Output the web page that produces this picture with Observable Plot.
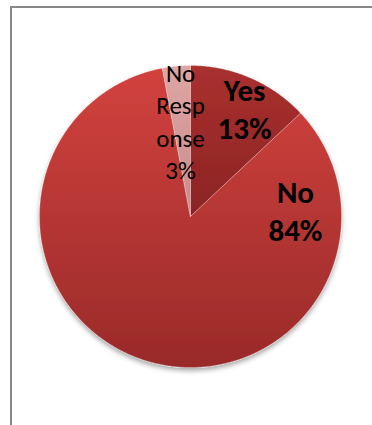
<!DOCTYPE html>
<html><head><meta charset="utf-8">
<script src="https://cdn.jsdelivr.net/npm/d3@7"></script>
<script src="https://cdn.jsdelivr.net/npm/@observablehq/plot@0.6"></script>
<style>
html,body{margin:0;padding:0;background:#fff;}
#wrap{position:relative;width:372px;height:425px;overflow:hidden;}
#border{position:absolute;left:10px;top:6px;width:420px;height:460px;border:2px solid #888;box-sizing:border-box;}
#chart{position:absolute;left:0;top:0;}
</style></head><body>
<div id="wrap"><div id="border"></div><div id="chart"></div></div>
<script>
// ---- data ----
const categories = ["Yes", "No", "No Response"];
const percents = [13, 84, 3];
const labelLines = ["Yes\n13%", "No\n84%", "No\nResp\nonse\n3%"];

// ---- style / layout (not data) ----
const gradients = [
  ["#a9302e", "#8c2424"],
  ["#d2423e", "#992a29"],
  ["#dfa6a6", "#c68b8b"]
];
const boldLabel = [true, true, false];
// label anchor in unit-pie coordinates (y up)
const labelPos = [[0.358, 0.722], [0.695, 0.046], [-0.066, 0.64]];

// ---- build slices from data ----
const total = d3.sum(percents);
let acc = 0;
const slices = categories.map((c, i) => {
  const a0 = acc / total * 2 * Math.PI;
  acc += percents[i];
  const a1 = acc / total * 2 * Math.PI;
  const n = Math.max(2, Math.ceil((a1 - a0) / (Math.PI / 360)));
  const ring = [[0, 0]];
  for (let k = 0; k <= n; k++) {
    const a = a0 + (a1 - a0) * k / n;
    ring.push([Math.sin(a), Math.cos(a)]);
  }
  ring.push([0, 0]);
  return {type: "Feature", properties: {name: c, fill: `url(#grad${i})`},
          geometry: {type: "Polygon", coordinates: [ring]}};
});
const pie = {type: "FeatureCollection", features: slices};

const labels = categories.map((c, i) => ({
  name: c, text: labelLines[i], x: labelPos[i][0], y: labelPos[i][1], bold: boldLabel[i]
}));

const fontFam = "Carlito, Calibri, Lato, 'Liberation Sans', sans-serif";

const svg = Plot.plot({
  width: 372,
  height: 425,
  marginLeft: 39,
  marginRight: 31,
  marginTop: 65,
  marginBottom: 58,
  style: {background: "transparent", overflow: "visible"},
  projection: {type: "reflect-y", domain: pie},
  color: {type: "identity"},
  marks: [
    Plot.geo(pie.features, {fill: d => d.properties.fill, stroke: "#ffffff", strokeOpacity: 0.35, strokeWidth: 0.75}),
    Plot.text(labels.filter(d => d.bold), {
      x: "x", y: "y", text: "text", fontFamily: fontFam, fontWeight: "bold",
      fontSize: 31, lineHeight: 1.23, fill: "#000"
    }),
    Plot.text(labels.filter(d => !d.bold), {
      x: "x", y: "y", text: "text", fontFamily: fontFam, fontWeight: "normal",
      fontSize: 25, lineHeight: 1.3, fill: "#000"
    })
  ]
});

// gradients + shadow
const ns = "http://www.w3.org/2000/svg";
const defs = document.createElementNS(ns, "defs");
gradients.forEach((g, i) => {
  const lg = document.createElementNS(ns, "linearGradient");
  lg.setAttribute("id", "grad" + i);
  lg.setAttribute("x1", "0"); lg.setAttribute("y1", "0");
  lg.setAttribute("x2", "0"); lg.setAttribute("y2", "1");
  g.forEach((col, j) => {
    const s = document.createElementNS(ns, "stop");
    s.setAttribute("offset", j === 0 ? "0" : "1");
    s.setAttribute("stop-color", col);
    lg.appendChild(s);
  });
  defs.appendChild(lg);
});
const filt = document.createElementNS(ns, "filter");
filt.setAttribute("id", "shadow");
filt.setAttribute("x", "-10%"); filt.setAttribute("y", "-10%");
filt.setAttribute("width", "120%"); filt.setAttribute("height", "125%");
const ds = document.createElementNS(ns, "feDropShadow");
ds.setAttribute("dx", "0"); ds.setAttribute("dy", "3");
ds.setAttribute("stdDeviation", "2.5");
ds.setAttribute("flood-color", "#000"); ds.setAttribute("flood-opacity", "0.35");
filt.appendChild(ds);
defs.appendChild(filt);
svg.insertBefore(defs, svg.firstChild);
const geoG = svg.querySelector('g[aria-label="geo"]');
if (geoG) geoG.setAttribute("filter", "url(#shadow)");

document.getElementById("chart").appendChild(svg);
</script>
</body></html>
